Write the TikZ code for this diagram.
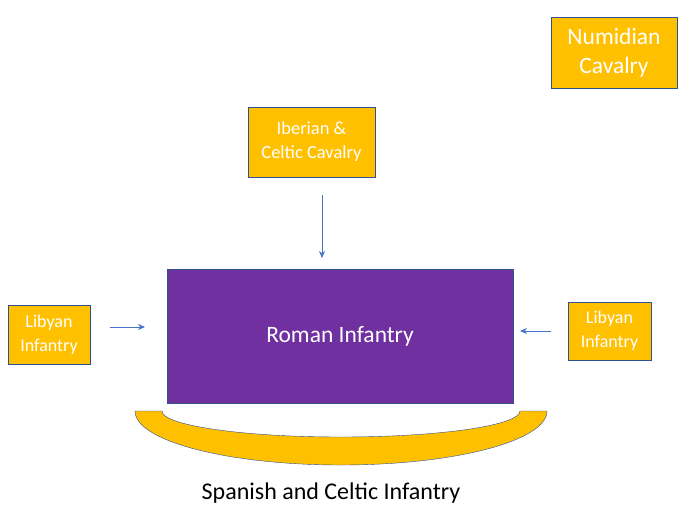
\documentclass[tikz,border=0pt]{standalone}
\usepackage{fontspec}
\setmainfont{Carlito}
\usetikzlibrary{arrows.meta}
\definecolor{gold}{HTML}{FFC000}
\definecolor{purp}{HTML}{7030A0}
\definecolor{edgeblue}{HTML}{2F528F}
\definecolor{arrowblue}{HTML}{4472C4}

\begin{document}
\begin{tikzpicture}[x=1pt, y=-1pt,
>={Stealth[length=7pt, width=6pt]},
unitt/.style={rectangle, draw=edgeblue, fill=gold, text=white, align=center, inner sep=0pt, font=\fontsize{18}{24}\selectfont},
romann/.style={rectangle, draw=edgeblue, fill=purp, text=white, inner sep=0pt, minimum width=346pt, minimum height=134pt, font=\fontsize{23.5}{28}\selectfont},
movee/.style={->, draw=arrowblue, line width=0.8pt},
]
  \useasboundingbox (0,0) rectangle (689,531);
  \node (roman) [romann] at (340,336) {Roman Infantry};
  \node (iberian) [unitt, minimum width=127pt, minimum height=70pt, font=\fontsize{18.5}{24}\selectfont] at (311.5,142) {Iberian \&\\Celtic Cavalry};
  \node (numidian) [unitt, minimum width=126pt, minimum height=71pt, font=\fontsize{23.5}{29}\selectfont] at (614,52.5) {Numidian\\Cavalry};
  \node (libyanL) [unitt, minimum width=82pt, minimum height=59pt] at (49,334.5) {Libyan\\Infantry};
  \node (libyanR) [unitt, minimum width=83pt, minimum height=58pt] at (609.5,331) {Libyan\\Infantry};

  % Spanish and Celtic crescent
  \draw[draw=edgeblue, fill=gold] (135,411) -- (162,411)
    arc[start angle=180, end angle=360, x radius=179pt, y radius=26pt] -- (547,411)
    arc[start angle=0, end angle=-180, x radius=206pt, y radius=54pt] -- cycle;
  \node (spanish) [font=\fontsize{24}{28}\selectfont] at (331,493) {Spanish and Celtic Infantry};

  \coordinate (topStart) at (322,195);
  \coordinate (topEnd) at (322,258);
  \coordinate (leftStart) at (110,327);
  \coordinate (leftEnd) at (145,327);
  \coordinate (rightStart) at (551,331);
  \coordinate (rightEnd) at (520,331);
  \draw[movee] (topStart) -- (topEnd);
  \draw[movee] (leftStart) -- (leftEnd);
  \draw[movee] (rightStart) -- (rightEnd);
\end{tikzpicture}
\end{document}
